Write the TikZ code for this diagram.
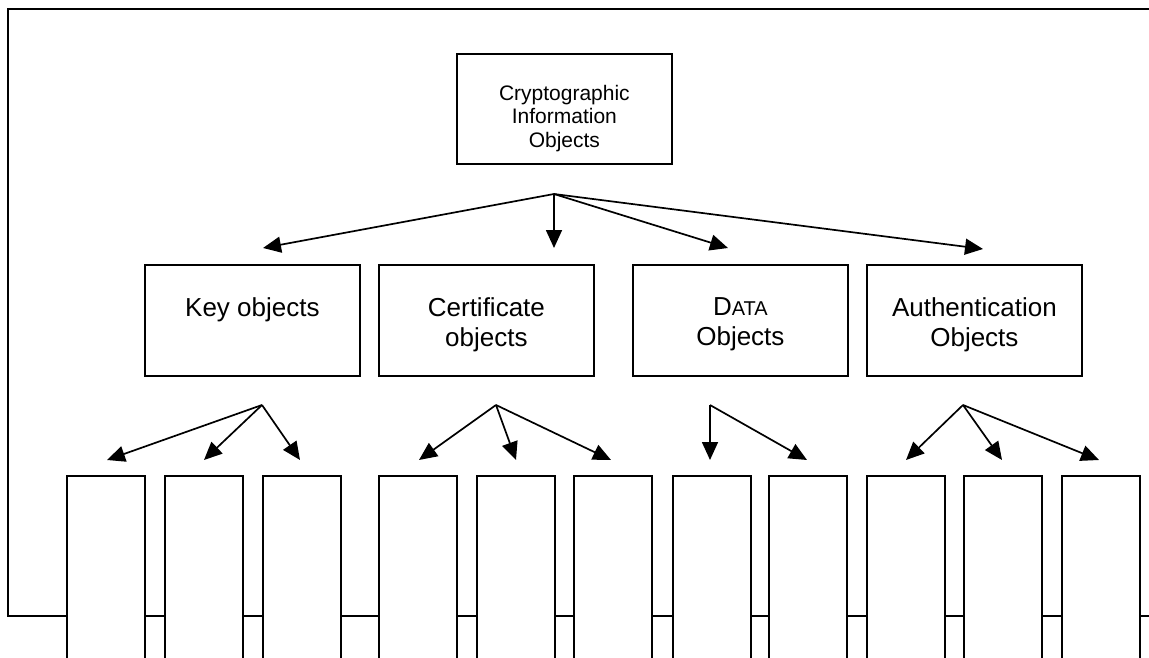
\documentclass[tikz,border=0pt]{standalone}
\usepackage{fontspec}
\setmainfont{Liberation Sans}
\usetikzlibrary{arrows.meta}

\begin{document}
\begin{tikzpicture}[x=1pt,y=-1pt,
  frame/.style={line width=2.2pt},
  boxline/.style={draw, line width=1.8pt, fill=white, inner sep=0pt, anchor=north west},
  topbox/.style={boxline, minimum width=215pt, minimum height=110pt},
  midbox/.style={boxline, minimum width=215pt, minimum height=111pt},
  leafbox/.style={boxline, minimum width=78pt, minimum height=240pt},
  toptext/.style={anchor=north, inner sep=0pt, align=center,
                  font=\fontsize{21pt}{23.5pt}\selectfont},
  midtext/.style={anchor=north, inner sep=0pt, align=center,
                  font=\fontsize{26pt}{30pt}\selectfont},
  link/.style={line width=1.7pt, -{Triangle[length=18pt,width=16pt]}}]

\useasboundingbox (0,0) rectangle (1149,658);
\clip (0,0) rectangle (1149,658);

% open frame running off the right and bottom edges
\draw[frame] (1160,9) -- (8,9) -- (8,616) -- (1160,616);

% root
\node[topbox] (root) at (456,53) {};
\node[toptext] (roottext) at ([yshift=-32pt]root.north)
  {Cryptographic\\Information\\Objects};

% object classes
\node[midbox] (key)  at (144,264) {};
\node[midbox] (cert) at (378,264) {};
\node[midbox] (data) at (632,264) {};
\node[midbox] (auth) at (866,264) {};
\node[midtext] (keytext)  at ([yshift=-33pt]key.north)  {Key objects};
\node[midtext] (certtext) at ([yshift=-33pt]cert.north) {Certificate\\objects};
\node[midtext] (datatext) at ([yshift=-33pt]data.north)
  {D{\fontsize{20pt}{30pt}\selectfont ATA}\\Objects};
\node[midtext] (authtext) at ([yshift=-33pt]auth.north) {Authentication\\Objects};

% leaf objects
\foreach \n/\x in {k1/66,k2/164,k3/262,c1/378,c2/476,c3/573,d1/672,d2/768,
                   a1/866,a2/963,a3/1061}
  \node[leafbox] (\n) at (\x,475) {};

% fan-out points and arrow targets
\coordinate (root-fan) at (554,194);
\coordinate (key-in)  at (263,248);
\coordinate (cert-in) at (554,248);
\coordinate (data-in) at (728,248);
\coordinate (auth-in) at (983,249);

\coordinate (key-fan)  at (262,405);
\coordinate (cert-fan) at (496,405);
\coordinate (data-fan) at (710,405);
\coordinate (auth-fan) at (963,405);

\coordinate (k1-in) at (107,460);
\coordinate (k2-in) at (204,460);
\coordinate (k3-in) at (300,460);
\coordinate (c1-in) at (419,460);
\coordinate (c2-in) at (516,460);
\coordinate (c3-in) at (611,460);
\coordinate (d1-in) at (710,460);
\coordinate (d2-in) at (807,460);
\coordinate (a1-in) at (906,460);
\coordinate (a2-in) at (1002,460);
\coordinate (a3-in) at (1099,460);

% connectors
\foreach \t in {key-in,cert-in,data-in,auth-in}
  \draw[link] (root-fan) -- (\t);
\foreach \t in {k1-in,k2-in,k3-in}
  \draw[link] (key-fan) -- (\t);
\foreach \t in {c1-in,c2-in,c3-in}
  \draw[link] (cert-fan) -- (\t);
\foreach \t in {d1-in,d2-in}
  \draw[link] (data-fan) -- (\t);
\foreach \t in {a1-in,a2-in,a3-in}
  \draw[link] (auth-fan) -- (\t);
\end{tikzpicture}
\end{document}
